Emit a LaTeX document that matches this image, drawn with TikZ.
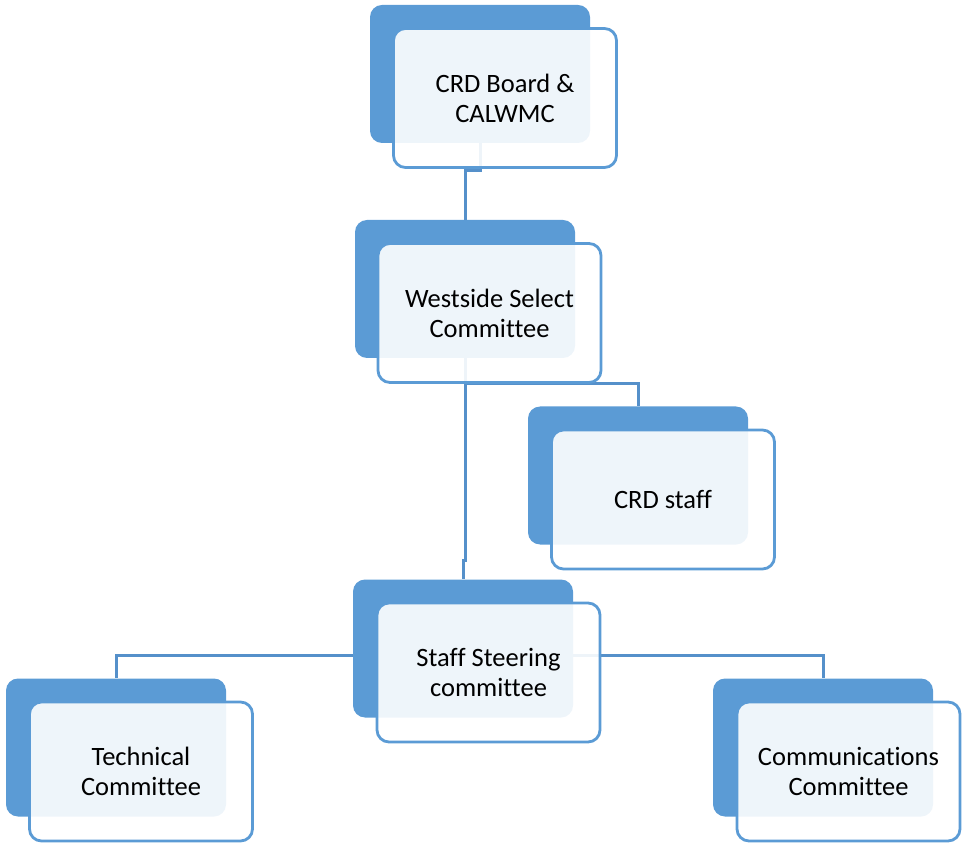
\documentclass[tikz,border=0pt]{standalone}
\usepackage{fontspec}
\setmainfont{Carlito}[RawFeature={-liga;-clig;-calt;-rlig;-dlig}]
\usetikzlibrary{backgrounds}
\definecolor{boxblue}{HTML}{5B9BD5}
\definecolor{linkblue}{HTML}{5590CA}

\begin{document}
\begin{tikzpicture}[x=1pt,y=1pt,
  back/.style={fill=boxblue, rounded corners=12pt, minimum width=220pt, minimum height=138pt, inner sep=0pt},
  front/.style={draw=boxblue, line width=2.8pt, fill=white, fill opacity=0.9, text opacity=1, rounded corners=12pt, minimum width=223pt, minimum height=139pt, inner sep=0pt, align=center, font=\fontsize{26.5}{30}\selectfont},
  link/.style={linkblue, line width=3pt}]
\useasboundingbox (0,0) rectangle (963,844);
% Define the nodes
\node[back] at (480,770) (board) {};
\node[back] at (465,555) (select) {};
\node[back] at (638,368.5) (staff) {};
\node[back] at (463,195.5) (steering) {};
\node[back] at (116,96.5) (tech) {};
\node[back] at (823,96.5) (comms) {};
\node[front] at (505,746) (boardtext) {CRD Board \&\\CALWMC};
\node[front] at (489.5,531) (selecttext) {Westside Select\\Committee};
\node[front] at (663,344.5) (stafftext) {CRD staff};
\node[front] at (488.5,171.5) (steeringtext) {Staff Steering\\committee};
\node[front] at (141,72.5) (techtext) {Technical\\Committee};
\node[front] at (848.5,72.5) (commstext) {Communications\\Committee};
% Draw the paths
\begin{scope}[on background layer]
\draw[link] (board.south) -- ++(0,-27) -| (select.north);
\draw[link] (select.south) -- ++(0,-202) -| (steering.north);
\draw[link] (select.south) -- ++(0,-25) -| (staff.north);
\draw[link] ([yshift=-7pt]steering.center) -| (tech.north);
\draw[link] ([yshift=-7pt]steering.center) -| (comms.north);
\end{scope}
\end{tikzpicture}
\end{document}
